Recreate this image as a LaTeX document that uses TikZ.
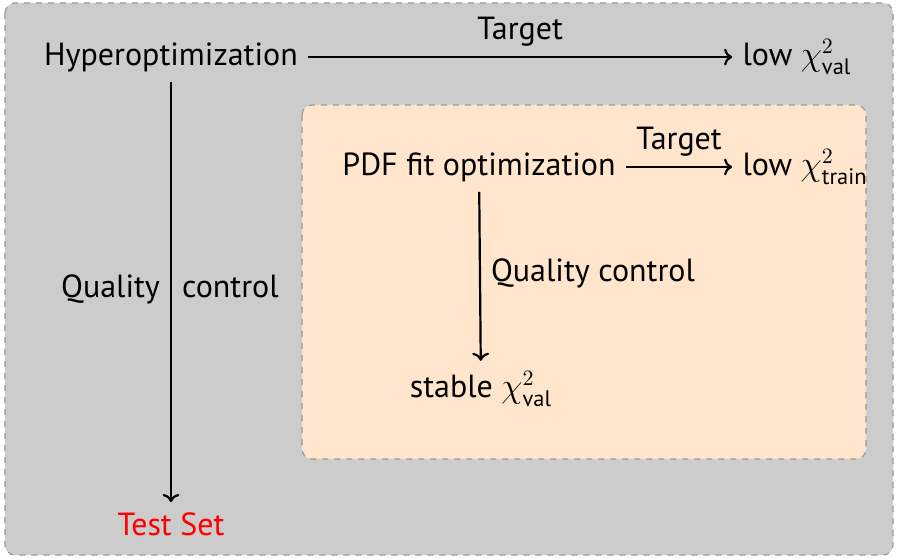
\documentclass[tikz,border=0pt]{standalone}
\usepackage{amsmath}
\usepackage{fontspec}
\setmainfont{PT Sans}
\usetikzlibrary{arrows.meta, positioning, backgrounds}

\definecolor{boxgray}{HTML}{CCCCCC}
\definecolor{boxedge}{HTML}{999999}
\definecolor{fitpeach}{HTML}{FFE5CC}

\tikzset{
  lbl/.style={font=\fontsize{16}{18}\selectfont, inner sep=5pt},
  side/.style={lbl, text height=0.75em, text depth=0.25em},
  flow/.style={->, line width=1.1pt},
  panel/.style={draw=boxedge, dashed, line width=0.6pt, rounded corners=5pt}
}

\begin{document}
\begin{tikzpicture}[x=0.5pt, y=-0.5pt]
  \useasboundingbox (0,0) rectangle (897,560);
  % outer and inner panels
  \filldraw[panel, fill=boxgray] (5,3) rectangle (893,555);
  \filldraw[panel, fill=fitpeach] (302,105) rectangle (866,459);

  % hyperoptimization loop
  \node[lbl] (hyper) at (171,57) {Hyperoptimization};
  \node[lbl] (lowval) at (797,57) {low $\chi^2_{\text{val}}$};
  \node[lbl, red] (test) at (171,524) {Test Set};
  \draw[flow] (hyper) -- node[lbl, above] {Target} (lowval);
  \draw[flow] (hyper) -- node[side, left] {Quality} node[side, right] {control} (test);

  % PDF fit loop
  \node[lbl] (pdf) at (479,167) {PDF fit optimization};
  \node[lbl] (lowtrain) at (805,167) {low $\chi^2_{\text{train}}$};
  \node[lbl] (stable) at (481,389) {stable $\chi^2_{\text{val}}$};
  \draw[flow] (pdf) -- node[lbl, above] {Target} (lowtrain);
  \draw[flow] (pdf) -- node[side, right] {Quality control} (stable);
\end{tikzpicture}
\end{document}
